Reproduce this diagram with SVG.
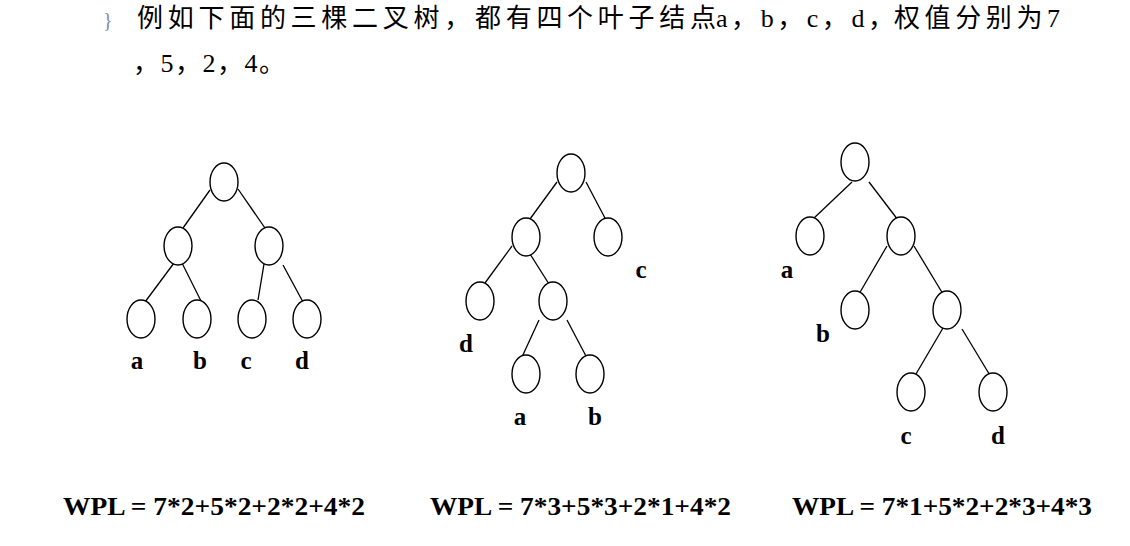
<svg xmlns="http://www.w3.org/2000/svg" width="1130" height="546" viewBox="0 0 1130 546">
<style>
.n{fill:#fff;stroke:#000;stroke-width:1.4}
.e{stroke:#000;stroke-width:1.3;fill:none}
.lb{font-family:"Liberation Serif",serif;font-weight:bold;font-size:25px;fill:#000;text-anchor:middle}
.w{font-family:"Liberation Serif",serif;font-weight:bold;font-size:26px;fill:#000}
.h{font-family:"Liberation Serif","Noto Sans CJK SC",serif;font-size:26px;fill:#000}
</style>
<rect width="1130" height="546" fill="#fff"/>
<text x="103" y="27" font-family="Liberation Serif,serif" font-size="20" fill="#7f8aa8">}</text>
<text class="h" x="137" y="27" textLength="579" lengthAdjust="spacing">例如下面的三棵二叉树，都有四个叶子结点</text>
<text class="h" x="716" y="27" textLength="178" lengthAdjust="spacing">a，b，c，d，</text>
<text class="h" x="894" y="27" textLength="166" lengthAdjust="spacing">权值分别为7</text>
<text class="h" x="133" y="72" textLength="152" lengthAdjust="spacing">，5，2，4。</text>
<g id="connectors">
<line class="e" x1="210" y1="190" x2="183" y2="228"/>
<line class="e" x1="238" y1="189" x2="265" y2="228"/>
<line class="e" x1="174" y1="263" x2="145" y2="302"/>
<line class="e" x1="182" y1="263" x2="201" y2="301"/>
<line class="e" x1="264" y1="264" x2="258" y2="300"/>
<line class="e" x1="283" y1="265" x2="303" y2="302"/>
<line class="e" x1="557" y1="182" x2="530" y2="219"/>
<line class="e" x1="586" y1="182" x2="606" y2="220"/>
<line class="e" x1="512" y1="246" x2="485" y2="283"/>
<line class="e" x1="530" y1="254" x2="549" y2="284"/>
<line class="e" x1="539" y1="320" x2="522" y2="357"/>
<line class="e" x1="567" y1="320" x2="587" y2="358"/>
<line class="e" x1="852" y1="182" x2="813" y2="219"/>
<line class="e" x1="869" y1="182" x2="898" y2="220"/>
<line class="e" x1="887" y1="246" x2="859" y2="294"/>
<line class="e" x1="914" y1="246" x2="943" y2="294"/>
<line class="e" x1="943" y1="328" x2="916" y2="374"/>
<line class="e" x1="962" y1="329" x2="991" y2="377"/>
</g>
<g id="t1-root"><ellipse class="n" cx="224" cy="182" rx="14" ry="19"/></g>
<g id="t1-l"><ellipse class="n" cx="178" cy="246" rx="14" ry="19"/></g>
<g id="t1-r"><ellipse class="n" cx="269" cy="246" rx="14" ry="19"/></g>
<g id="t1-a"><ellipse class="n" cx="141" cy="319" rx="14" ry="19"/><text class="lb" x="137" y="369">a</text></g>
<g id="t1-b"><ellipse class="n" cx="197" cy="319" rx="14" ry="19"/><text class="lb" x="200" y="369">b</text></g>
<g id="t1-c"><ellipse class="n" cx="252" cy="319" rx="14" ry="19"/><text class="lb" x="246" y="369">c</text></g>
<g id="t1-d"><ellipse class="n" cx="307" cy="319" rx="14" ry="19"/><text class="lb" x="302" y="369">d</text></g>
<g id="t2-root"><ellipse class="n" cx="571" cy="173" rx="14" ry="19"/></g>
<g id="t2-l"><ellipse class="n" cx="526" cy="237" rx="14" ry="19"/></g>
<g id="t2-c"><ellipse class="n" cx="608" cy="237" rx="14" ry="19"/><text class="lb" x="641" y="278">c</text></g>
<g id="t2-d"><ellipse class="n" cx="480" cy="301" rx="14" ry="19"/><text class="lb" x="466" y="352">d</text></g>
<g id="t2-i"><ellipse class="n" cx="553" cy="301" rx="14" ry="19"/></g>
<g id="t2-a"><ellipse class="n" cx="526" cy="374" rx="14" ry="19"/><text class="lb" x="520" y="425">a</text></g>
<g id="t2-b"><ellipse class="n" cx="590" cy="374" rx="14" ry="19"/><text class="lb" x="595" y="425">b</text></g>
<g id="t3-root"><ellipse class="n" cx="855" cy="162" rx="14" ry="19"/></g>
<g id="t3-a"><ellipse class="n" cx="810" cy="236" rx="14" ry="19"/><text class="lb" x="787" y="278">a</text></g>
<g id="t3-r"><ellipse class="n" cx="901" cy="236" rx="14" ry="19"/></g>
<g id="t3-b"><ellipse class="n" cx="855" cy="310" rx="14" ry="19"/><text class="lb" x="823" y="342">b</text></g>
<g id="t3-i"><ellipse class="n" cx="947" cy="310" rx="14" ry="19"/></g>
<g id="t3-c"><ellipse class="n" cx="911" cy="392" rx="14" ry="19"/><text class="lb" x="906" y="444">c</text></g>
<g id="t3-d"><ellipse class="n" cx="993" cy="392" rx="14" ry="19"/><text class="lb" x="998" y="444">d</text></g>
<text class="w" x="63" y="515" textLength="302" lengthAdjust="spacingAndGlyphs">WPL = 7*2+5*2+2*2+4*2</text>
<text class="w" x="430" y="515" textLength="301" lengthAdjust="spacingAndGlyphs">WPL = 7*3+5*3+2*1+4*2</text>
<text class="w" x="792" y="515" textLength="300" lengthAdjust="spacingAndGlyphs">WPL = 7*1+5*2+2*3+4*3</text>
</svg>
